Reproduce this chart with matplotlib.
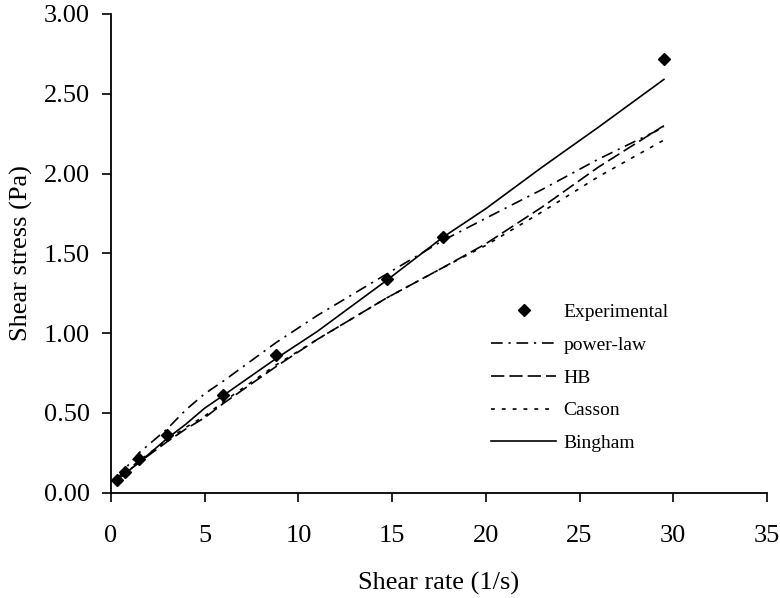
import matplotlib
matplotlib.use('Agg')
import matplotlib.pyplot as plt

plt.rcParams['font.family'] = ['Liberation Serif', 'DejaVu Serif']

#%% data
exp_rate = [0.3, 0.75, 1.5, 3, 6, 8.8, 14.7, 17.7, 29.5]
exp_stress = [0.08, 0.13, 0.21, 0.36, 0.61, 0.86, 1.34, 1.60, 2.72]

model_rate = [0.3, 0.75, 1.5, 3, 4, 5, 6, 8.8, 11, 14.7, 17.7, 20, 23, 26, 29.5]
powerlaw = [0.08, 0.15, 0.25, 0.40, 0.52, 0.62, 0.70, 0.94, 1.11, 1.37, 1.58, 1.72, 1.90, 2.09, 2.29]
hb = [0.08, 0.12, 0.19, 0.32, 0.40, 0.47, 0.56, 0.79, 0.96, 1.22, 1.41, 1.56, 1.79, 2.04, 2.30]
casson = [0.09, 0.13, 0.20, 0.33, 0.41, 0.48, 0.57, 0.80, 0.96, 1.22, 1.41, 1.55, 1.76, 1.98, 2.21]
bingham = [0.08, 0.12, 0.19, 0.34, 0.43, 0.53, 0.61, 0.84, 1.01, 1.33, 1.60, 1.78, 2.04, 2.29, 2.59]

xticks = [0, 5, 10, 15, 20, 25, 30, 35]
yticks = [0.0, 0.5, 1.0, 1.5, 2.0, 2.5, 3.0]

#%% figure
fig = plt.figure(figsize=(7.8, 5.98), dpi=100)
ax = fig.add_axes([0.1423, 0.1761, 0.841, 0.8005])

ax.plot(exp_rate, exp_stress, 'kD', ms=6.5, ls='none', label='Experimental')
ax.plot(model_rate, powerlaw, color='k', lw=1.2, dashes=(7, 3.5, 1.3, 3.5), label='power-law')
ax.plot(model_rate, hb, color='k', lw=1.2, dashes=(8, 3), label='HB')
ax.plot(model_rate, casson, color='k', lw=1.2, dashes=(2.3, 4.2), label='Casson')
ax.plot(model_rate, bingham, color='k', lw=1.2, label='Bingham')

ax.set_xlim(0, 35)
ax.set_ylim(0, 3)
ax.set_xticks(xticks)
ax.set_yticks(yticks)
ax.set_yticklabels(['%.2f' % v for v in yticks])

for s in ['top', 'right']:
    ax.spines[s].set_visible(False)
for s in ['left', 'bottom']:
    ax.spines[s].set_linewidth(1.3)

ax.tick_params(axis='both', direction='out', length=6.5, width=1.2, labelsize=19)
ax.tick_params(axis='x', pad=17)
ax.tick_params(axis='y', pad=8.5)

ax.set_xlabel('Shear rate (1/s)', fontsize=19, labelpad=18)
ax.set_ylabel('Shear stress (Pa)', fontsize=19, labelpad=8)

ax.legend(loc='center', bbox_to_anchor=(0.715, 0.24), frameon=False, fontsize=14,
          handlelength=3.3, handletextpad=0.4, labelspacing=0.78, numpoints=1)

fig.savefig('out.png', dpi=100)
